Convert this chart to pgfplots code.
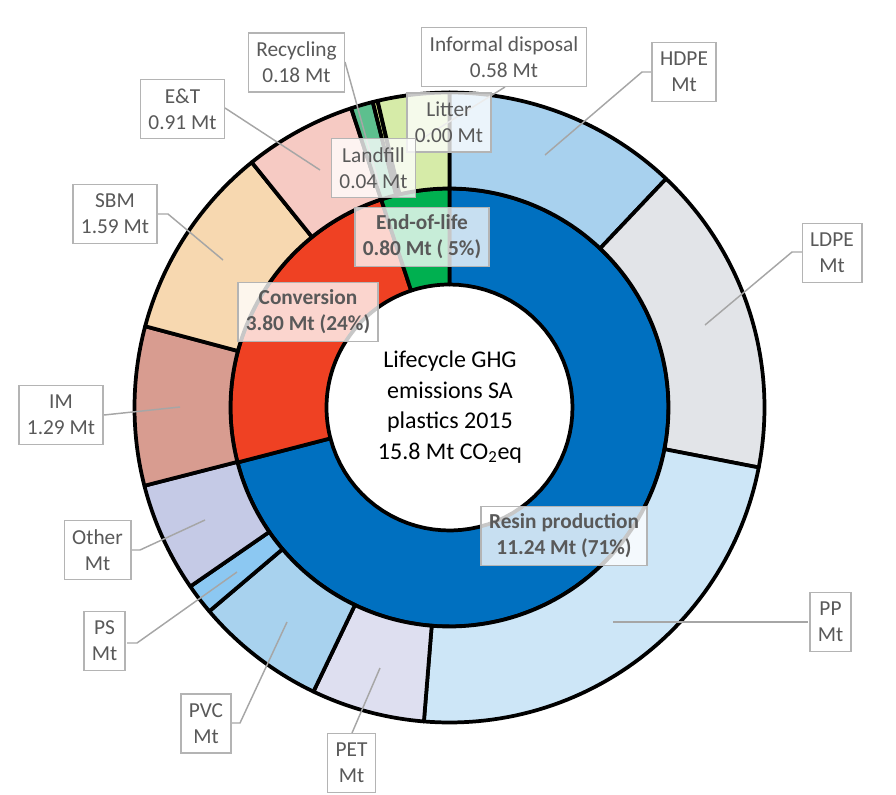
\documentclass[border=0pt]{standalone}
\usepackage{fontspec}
\setmainfont{Carlito}
\usepackage{pgfplots}
\usepackage{pgfplotstable}
\pgfplotsset{compat=1.18}

% outer ring: polymers, conversion processes, end-of-life routes (Mt CO2eq)
\pgfplotstableread{
name value
HDPE 1.91
LDPE 2.53
PP 3.68
PET 0.92
PVC 1.06
PS 0.25
Other 0.89
IM 1.29
SBM 1.59
ET 0.91
Recycling 0.18
Landfill 0.04
Litter 0.00
Informal 0.58
}\outerdata
% inner ring: lifecycle stages
\pgfplotstableread{
name value
Resin 11.24
Conversion 3.80
EoL 0.80
}\innerdata

\definecolor{oc0}{HTML}{A8D1EE}
\definecolor{oc1}{HTML}{E2E4E8}
\definecolor{oc2}{HTML}{CDE6F7}
\definecolor{oc3}{HTML}{DEDFF0}
\definecolor{oc4}{HTML}{A8D2EE}
\definecolor{oc5}{HTML}{8CC8F2}
\definecolor{oc6}{HTML}{C5CAE6}
\definecolor{oc7}{HTML}{D89C90}
\definecolor{oc8}{HTML}{F7D8B0}
\definecolor{oc9}{HTML}{F6CAC3}
\definecolor{oc10}{HTML}{5DBF8E}
\definecolor{oc11}{HTML}{D9E88A}
\definecolor{oc12}{HTML}{E2F0B4}
\definecolor{oc13}{HTML}{D6EBA8}
\definecolor{ic0}{HTML}{0070C0}
\definecolor{ic1}{HTML}{EF4123}
\definecolor{ic2}{HTML}{00B050}
\definecolor{labeltext}{HTML}{595959}
\definecolor{bordergray}{HTML}{B4B4B4}
\definecolor{leadergray}{HTML}{A6A6A6}

\newcommand\computeangles[2]{%
  \pgfplotstablegetrowsof{#1}%
  \pgfmathtruncatemacro\lastrow{\pgfplotsretval-1}%
  \xdef\mytot{0}%
  \foreach \i in {0,...,\lastrow}{%
    \pgfplotstablegetelem{\i}{value}\of{#1}%
    \pgfmathsetmacro\tmp{\mytot+\pgfplotsretval}%
    \xdef\mytot{\tmp}}%
  \xdef\mycum{0}%
  \foreach \i in {0,...,\lastrow}{%
    \pgfplotstablegetelem{\i}{value}\of{#1}%
    \let\val\pgfplotsretval
    \pgfmathsetmacro\aS{\mycum/\mytot*360}%
    \pgfmathsetmacro\tmp{\mycum+\val}%
    \xdef\mycum{\tmp}%
    \pgfmathsetmacro\aE{\mycum/\mytot*360}%
    \expandafter\xdef\csname #2a\i\endcsname{\aS}%
    \expandafter\xdef\csname #2b\i\endcsname{\aE}}%
}

\begin{document}
\begin{tikzpicture}[
  lbl/.style={draw=bordergray, line width=1.1pt, fill=white, align=center,
    font=\fontsize{16}{19.5}\selectfont, text=labeltext,
    minimum height=44.25pt, inner xsep=6pt, inner ysep=2pt},
  inlbl/.style={lbl, fill opacity=0.78, text opacity=1},
  blbl/.style={inlbl, font=\fontsize{16}{19.5}\selectfont\bfseries},
  leader/.style={draw=leadergray, line width=1.1pt}
]
\computeangles{\outerdata}{o}
\computeangles{\innerdata}{i}
\useasboundingbox (0,0) rectangle (672pt,596.25pt);
\begin{axis}[
  at={(0,0)}, anchor=south west,
  scale only axis, width=672pt, height=596.25pt,
  xmin=0, xmax=896, ymin=0, ymax=795, y dir=reverse,
  hide axis, clip=false,
  declare function={
    sang(\xT,\xA,\xB) = (\xT<=1) ? (\xA+(\xB-\xA)*\xT) : ((\xT<=2) ? \xB : (\xB-(\xB-\xA)*(\xT-2)));
    srad(\xT,\xO,\xI) = (\xT<=1) ? \xO : ((\xT<=2) ? (\xO-(\xO-\xI)*(\xT-1)) : \xI);
  }
]
% inner ring
\pgfplotsinvokeforeach{0,...,2}{%
  \addplot[fill=ic#1, draw=black, line width=2.8pt, line join=round, no markers,
    domain=0:3, samples=181, variable=\t, forget plot]
  ({449.5+srad(\t,219,123)*sin(sang(\t,\csname ia#1\endcsname,\csname ib#1\endcsname))},
   {407.5-srad(\t,219,123)*cos(sang(\t,\csname ia#1\endcsname,\csname ib#1\endcsname))}) -- cycle;
}
% outer ring
\pgfplotsinvokeforeach{0,...,13}{%
  \addplot[fill=oc#1, draw=black, line width=2.8pt, line join=round, no markers,
    domain=0:3, samples=181, variable=\t, forget plot]
  ({449.5+srad(\t,315,219)*sin(sang(\t,\csname oa#1\endcsname,\csname ob#1\endcsname))},
   {407.5-srad(\t,315,219)*cos(sang(\t,\csname oa#1\endcsname,\csname ob#1\endcsname))}) -- cycle;
}

% leader lines
\draw[leader] (axis cs:345,62) -- (axis cs:380,188);
\draw[leader] (axis cs:505,87) -- (axis cs:420,140);
\draw[leader] (axis cs:225,108) -- (axis cs:320,170);
\draw[leader] (axis cs:157,214) -- (axis cs:168,214) -- (axis cs:223,260);
\draw[leader] (axis cs:104,415) -- (axis cs:180,407);
\draw[leader] (axis cs:130,550) -- (axis cs:140,550) -- (axis cs:205,520);
\draw[leader] (axis cs:127,643) -- (axis cs:137,643) -- (axis cs:237,572);
\draw[leader] (axis cs:230,723) -- (axis cs:240,723) -- (axis cs:287,622);
\draw[leader] (axis cs:352,733) -- (axis cs:380,668);
\draw[leader] (axis cs:808,622) -- (axis cs:613,622);
\draw[leader] (axis cs:653,72) -- (axis cs:642,72) -- (axis cs:545,155);
\draw[leader] (axis cs:803,252) -- (axis cs:792,252) -- (axis cs:705,325);

% centre text
\node[font=\fontsize{18}{22.9}\selectfont, align=center, text=black] at (axis cs:450,407) {Lifecycle GHG\\emissions SA\\plastics 2015\\15.8 Mt CO\textsubscript{2}eq};

% labels
\node[lbl] at (axis cs:296.5,62.5) {Recycling\\0.18 Mt};
\node[lbl] at (axis cs:504,57) {Informal disposal\\0.58 Mt};
\node[inlbl] at (axis cs:449,122.5) {Litter\\0.00 Mt};
\node[inlbl] at (axis cs:373.5,168) {Landfill\\0.04 Mt};
\node[lbl] at (axis cs:182.5,109) {E\&T\\0.91 Mt};
\node[lbl] at (axis cs:115,214) {SBM\\1.59 Mt};
\node[lbl] at (axis cs:61,415) {IM\\1.29 Mt};
\node[lbl] at (axis cs:97.5,550) {Other\\Mt};
\node[lbl] at (axis cs:104.5,641) {PS\\Mt};
\node[lbl] at (axis cs:206,723.5) {PVC\\Mt};
\node[lbl] at (axis cs:351.5,763) {PET\\Mt};
\node[lbl] at (axis cs:830.5,622) {PP\\Mt};
\node[lbl] at (axis cs:684,72) {HDPE\\Mt};
\node[lbl] at (axis cs:832,253) {LDPE\\Mt};
\node[blbl] at (axis cs:308,312) {Conversion\\3.80 Mt (24\%)};
\node[blbl] at (axis cs:422,237) {End-of-life\\0.80 Mt ( 5\%)};
\node[blbl] at (axis cs:564,536) {Resin production\\11.24 Mt (71\%)};
\end{axis}
\end{tikzpicture}
\end{document}
